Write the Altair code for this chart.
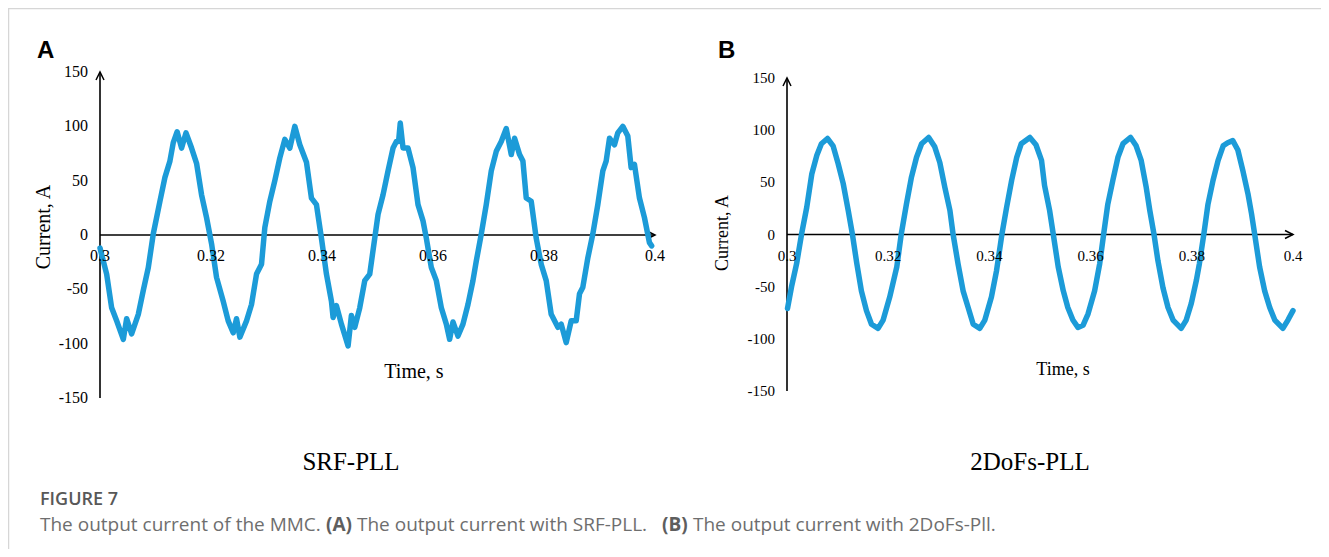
import altair as alt
import pandas as pd

# ---------------- data ----------------
# Panel A: output current with SRF-PLL (time in s, current in A)
a_time = [0.3000, 0.3012, 0.3021, 0.3030, 0.3042, 0.3048, 0.3057, 0.3069, 0.3078, 0.3087,
          0.3096, 0.3108, 0.3117, 0.3126, 0.3132, 0.3139, 0.3147, 0.3155, 0.3165, 0.3174,
          0.3183, 0.3192, 0.3201, 0.3210, 0.3222, 0.3231, 0.3240, 0.3246, 0.3252, 0.3264,
          0.3273, 0.3282, 0.3291, 0.3297, 0.3306, 0.3315, 0.3324, 0.3333, 0.3342, 0.3351,
          0.3360, 0.3372, 0.3381, 0.3390, 0.3399, 0.3408, 0.3417, 0.3420, 0.3426, 0.3435,
          0.3447, 0.3453, 0.3459, 0.3468, 0.3477, 0.3486, 0.3495, 0.3501, 0.3510, 0.3519,
          0.3528, 0.3534, 0.3538, 0.3541, 0.3546, 0.3555, 0.3564, 0.3573, 0.3582, 0.3588,
          0.3597, 0.3606, 0.3615, 0.3624, 0.3630, 0.3636, 0.3645, 0.3654, 0.3663, 0.3672,
          0.3678, 0.3687, 0.3696, 0.3705, 0.3714, 0.3723, 0.3732, 0.3741, 0.3747, 0.3756,
          0.3762, 0.3768, 0.3777, 0.3786, 0.3795, 0.3804, 0.3813, 0.3825, 0.3831, 0.3840,
          0.3849, 0.3858, 0.3864, 0.3870, 0.3879, 0.3888, 0.3897, 0.3906, 0.3912, 0.3918,
          0.3927, 0.3933, 0.3942, 0.3951, 0.3957, 0.3963, 0.3972, 0.3981, 0.3990, 0.3994]
a_current = [-12, -36, -67, -79, -96, -77, -91, -73, -51, -30,
             1, 31, 53, 68, 85, 95, 80, 94, 80, 66,
             37, 16, -8, -39, -61, -79, -90, -77, -94, -79,
             -64, -36, -27, 7, 31, 50, 71, 88, 80, 100,
             83, 67, 34, 28, -3, -36, -61, -76, -65, -82,
             -102, -74, -85, -67, -42, -36, -3, 19, 37, 59,
             80, 86, 86, 103, 80, 80, 62, 28, 13, -3,
             -30, -42, -67, -82, -96, -80, -93, -82, -64, -42,
             -24, 1, 28, 59, 77, 86, 98, 74, 89, 74,
             68, 34, 31, -3, -27, -42, -73, -85, -82, -99,
             -79, -79, -54, -48, -21, 1, 28, 59, 68, 89,
             83, 94, 100, 91, 62, 65, 34, 16, -7, -10]

# Panel B: output current with 2DoFs-PLL
b_time = [0.3001, 0.3009, 0.3019, 0.3029, 0.3039, 0.3049, 0.3059, 0.3068, 0.3080, 0.3091,
          0.3101, 0.3111, 0.3121, 0.3129, 0.3138, 0.3147, 0.3157, 0.3167, 0.3180, 0.3190,
          0.3203, 0.3217, 0.3226, 0.3236, 0.3246, 0.3256, 0.3266, 0.3280, 0.3292, 0.3302,
          0.3312, 0.3322, 0.3328, 0.3338, 0.3348, 0.3358, 0.3368, 0.3381, 0.3391, 0.3404,
          0.3414, 0.3425, 0.3434, 0.3444, 0.3454, 0.3463, 0.3480, 0.3492, 0.3503, 0.3509,
          0.3519, 0.3526, 0.3536, 0.3546, 0.3555, 0.3565, 0.3575, 0.3585, 0.3595, 0.3608,
          0.3618, 0.3626, 0.3634, 0.3644, 0.3654, 0.3664, 0.3679, 0.3690, 0.3700, 0.3710,
          0.3717, 0.3725, 0.3733, 0.3743, 0.3753, 0.3763, 0.3779, 0.3789, 0.3799, 0.3809,
          0.3815, 0.3824, 0.3832, 0.3842, 0.3852, 0.3862, 0.3871, 0.3881, 0.3891, 0.3901,
          0.3911, 0.3918, 0.3924, 0.3934, 0.3944, 0.3954, 0.3964, 0.3980, 0.3990, 0.4000]
b_current = [-71, -50, -28, 1, 26, 58, 76, 87, 92, 85,
             68, 49, 23, 1, -28, -54, -73, -86, -90, -82,
             -60, -31, 1, 29, 55, 74, 87, 93, 84, 69,
             45, 23, 1, -28, -54, -70, -86, -90, -82, -60,
             -35, 1, 26, 52, 74, 87, 93, 86, 71, 47,
             23, 1, -31, -54, -70, -82, -89, -87, -76, -54,
             -28, 1, 29, 52, 74, 87, 93, 85, 71, 45,
             23, 1, -25, -51, -70, -82, -90, -82, -66, -44,
             -28, 1, 29, 52, 71, 85, 88, 90, 81, 61,
             39, 20, 1, -31, -54, -70, -82, -90, -82, -73]

x_ticks = [0.3, 0.32, 0.34, 0.36, 0.38, 0.4]
x_tick_labels = ["0.3", "0.32", "0.34", "0.36", "0.38", "0.4"]
y_ticks = [150, 100, 50, 0, -50, -100, -150]
y_tick_labels = ["150", "100", "50", "0", "-50", "-100", "-150"]

LINE_COLOR = "#1C9BD8"
SERIF = "Liberation Serif"
W, H = 1313, 541


def panel(t, v, xr, yr, fs):
    xs = alt.Scale(domain=[0.3, 0.4], range=xr, nice=False, zero=False)
    ys = alt.Scale(domain=[-150, 150], range=yr, nice=False)
    X = lambda f: alt.X(f, type="quantitative", scale=xs, axis=None)
    Y = lambda f: alt.Y(f, type="quantitative", scale=ys, axis=None)

    curve = pd.DataFrame({"t": t, "v": v})
    xt = pd.DataFrame({"t": x_ticks, "v": [0] * len(x_ticks), "label": x_tick_labels})
    yt = pd.DataFrame({"t": [0.3] * len(y_ticks), "v": y_ticks, "label": y_tick_labels})
    ax = pd.DataFrame({"t": [0.3, 0.3], "t2": [0.3, 0.4], "v": [-150, 0], "v2": [150, 0]})
    up = pd.DataFrame({"t": [0.3], "v": [150]})
    right = pd.DataFrame({"t": [0.4], "v": [0]})

    xlab = alt.Chart(xt).mark_text(font=SERIF, fontSize=fs, color="black",
                                   align="center", baseline="middle", dy=21).encode(
        x=X("t"), y=Y("v"), text="label:N")
    ylab = alt.Chart(yt).mark_text(font=SERIF, fontSize=fs, color="black",
                                   align="right", baseline="middle", dx=-12).encode(
        x=X("t"), y=Y("v"), text="label:N")
    rules = alt.Chart(ax).mark_rule(color="black", strokeWidth=1.6).encode(
        x=X("t"), x2="t2", y=Y("v"), y2="v2")
    arrow_up = alt.Chart(up).mark_point(shape="M-0.5,1L0,0L0.5,1", size=256, filled=False,
                                        color="black", strokeWidth=1.5, opacity=1).encode(
        x=X("t"), y=Y("v"))
    arrow_right = alt.Chart(right).mark_point(shape="M-1,-0.5L0,0L-1,0.5", size=256, filled=False,
                                              color="black", strokeWidth=1.5, opacity=1).encode(
        x=X("t"), y=Y("v"))
    line = alt.Chart(curve).mark_line(color=LINE_COLOR, strokeWidth=5.5, strokeCap="round",
                                      strokeJoin="round").encode(
        x=X("t"), y=Y("v"), order="t:Q")
    return alt.layer(rules, arrow_up, arrow_right, line, xlab, ylab)


panel_a = panel(a_time, a_current, [92, 647], [390, 64], 16)
panel_b = panel(b_time, b_current, [779, 1285], [383, 70], 15)

# ---------------- text annotations ----------------
CAP_COL = "#6e6e6e"
CAP_Y = 523
labels = [
    ("A", 29, 50, 24, "Liberation Sans", "bold", 0, "black", "left", "alphabetic"),
    ("B", 710, 50, 24, "Liberation Sans", "bold", 0, "black", "left", "alphabetic"),
    ("Current, A", 36, 219, 20, SERIF, "normal", 270, "black", "center", "middle"),
    ("Time, s", 406, 364, 20, SERIF, "normal", 0, "black", "center", "middle"),
    ("Current, A", 715, 225, 18, SERIF, "normal", 270, "black", "center", "middle"),
    ("Time, s", 1055, 362, 18, SERIF, "normal", 0, "black", "center", "middle"),
    ("SRF-PLL", 343, 454, 25, SERIF, "normal", 0, "black", "center", "middle"),
    ("2DoFs-PLL", 1022, 454, 25, SERIF, "normal", 0, "black", "center", "middle"),
    ("FIGURE 7", 32, 497, 18, "Open Sans", 600, 0, "#585858", "left", "alphabetic"),
    ("The output current of the MMC.", 32, CAP_Y, 19, "Open Sans", "normal", 0, CAP_COL, "left", "alphabetic"),
    ("(A)", 318, CAP_Y, 19, "Open Sans", "bold", 0, "#5e5e5e", "left", "alphabetic"),
    ("The output current with SRF-PLL.", 349, CAP_Y, 19, "Open Sans", "normal", 0, CAP_COL, "left", "alphabetic"),
    ("(B)", 654, CAP_Y, 19, "Open Sans", "bold", 0, "#5e5e5e", "left", "alphabetic"),
    ("The output current with 2DoFs-Pll.", 685, CAP_Y, 19, "Open Sans", "normal", 0, CAP_COL, "left", "alphabetic"),
]

text_layers = []
for (txt, x, y, fs, font, w, ang, col, al, bl) in labels:
    text_layers.append(
        alt.Chart(pd.DataFrame([{"text": txt}])).mark_text(
            font=font, fontSize=fs, fontWeight=w, angle=ang,
            color=col, align=al, baseline=bl
        ).encode(x=alt.value(x), y=alt.value(y), text="text:N")
    )

frame = pd.DataFrame({"x": [0, 0.5], "x2": [W, 0.5], "y": [0.5, 0], "y2": [0.5, H]})
frame_layer = alt.Chart(frame).mark_rule(color="#d6d6d6", strokeWidth=1.5).encode(
    x=alt.X("x:Q", scale=None), x2="x2", y=alt.Y("y:Q", scale=None), y2="y2")

chart = alt.layer(frame_layer, panel_a, panel_b, *text_layers).resolve_scale(
    x="independent", y="independent"
).properties(
    width=W, height=H, padding=0, autosize=alt.AutoSizeParams(type="none")
).configure_view(stroke=None)

chart.save("out.html", embed_options={"renderer": "svg", "actions": False})
